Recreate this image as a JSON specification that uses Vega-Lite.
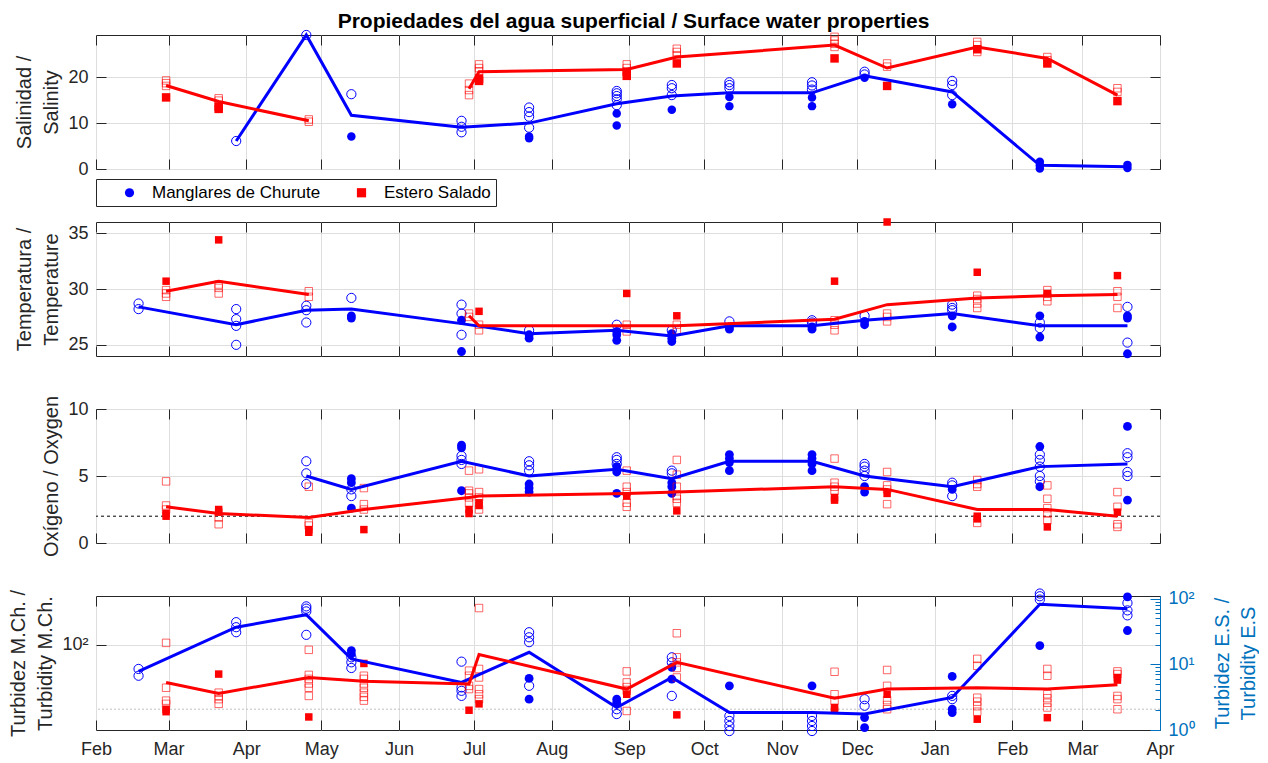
{
"$schema": "https://vega.github.io/schema/vega-lite/v6.json",
"padding": {"left": 8, "top": 10, "right": 0, "bottom": 2},
"title": {"text": "Propiedades del agua superficial / Surface water properties", "fontSize": 21, "fontWeight": "bold", "font": "Liberation Sans", "color": "#000000", "anchor": "middle", "offset": -4},
"spacing": 53,
"bounds": "flush",
"config": {
  "font": "Liberation Sans",
  "view": {"stroke": "#262626", "strokeWidth": 1},
  "axis": {"labelFont": "Liberation Sans", "titleFont": "Liberation Sans", "labelFontSize": 18, "titleFontSize": 20, "titleFontWeight": "normal", "labelColor": "#262626", "titleColor": "#262626", "tickColor": "#262626", "domain": false, "gridColor": "#dedede", "gridWidth": 1, "tickSize": -10, "tickWidth": 1, "labelPadding": 18, "titlePadding": 6, "titleLineHeight": 27, "labelFlush": false, "labelOverlap": false, "labelBound": false},
  "legend": {"labelFont": "Liberation Sans"}
},
"datasets": {
"sal": [
{"d":"2020-03-28","s":"M","f":"o","v":6.1},
{"d":"2020-04-25","s":"M","f":"o","v":29.2},
{"d":"2020-05-13","s":"M","f":"o","v":16.3},{"d":"2020-05-13","s":"M","f":"f","v":7.1},
{"d":"2020-06-26","s":"M","f":"o","v":10.5},{"d":"2020-06-26","s":"M","f":"o","v":9.2},{"d":"2020-06-26","s":"M","f":"o","v":8.0},
{"d":"2020-07-23","s":"M","f":"o","v":13.4},{"d":"2020-07-23","s":"M","f":"o","v":12.4},{"d":"2020-07-23","s":"M","f":"o","v":11.4},{"d":"2020-07-23","s":"M","f":"o","v":9.0},{"d":"2020-07-23","s":"M","f":"f","v":7.1},{"d":"2020-07-23","s":"M","f":"f","v":6.7},
{"d":"2020-08-27","s":"M","f":"o","v":17.0},{"d":"2020-08-27","s":"M","f":"o","v":16.5},{"d":"2020-08-27","s":"M","f":"o","v":15.9},{"d":"2020-08-27","s":"M","f":"o","v":15.2},{"d":"2020-08-27","s":"M","f":"o","v":13.9},{"d":"2020-08-27","s":"M","f":"f","v":12.1},{"d":"2020-08-27","s":"M","f":"f","v":9.5},
{"d":"2020-09-18","s":"M","f":"o","v":18.3},{"d":"2020-09-18","s":"M","f":"o","v":17.6},{"d":"2020-09-18","s":"M","f":"o","v":16.1},{"d":"2020-09-18","s":"M","f":"f","v":12.9},
{"d":"2020-10-11","s":"M","f":"o","v":18.9},{"d":"2020-10-11","s":"M","f":"o","v":18.3},{"d":"2020-10-11","s":"M","f":"o","v":17.6},{"d":"2020-10-11","s":"M","f":"f","v":15.7},{"d":"2020-10-11","s":"M","f":"f","v":13.7},
{"d":"2020-11-13","s":"M","f":"o","v":18.9},{"d":"2020-11-13","s":"M","f":"o","v":18.2},{"d":"2020-11-13","s":"M","f":"o","v":17.3},{"d":"2020-11-13","s":"M","f":"f","v":15.6},{"d":"2020-11-13","s":"M","f":"f","v":13.7},
{"d":"2020-12-04","s":"M","f":"o","v":21.2},{"d":"2020-12-04","s":"M","f":"o","v":20.6},{"d":"2020-12-04","s":"M","f":"f","v":19.9},
{"d":"2021-01-08","s":"M","f":"o","v":19.2},{"d":"2021-01-08","s":"M","f":"o","v":18.3},{"d":"2021-01-08","s":"M","f":"o","v":16.1},{"d":"2021-01-08","s":"M","f":"f","v":14.1},
{"d":"2021-02-12","s":"M","f":"f","v":1.6},{"d":"2021-02-12","s":"M","f":"f","v":0.8},{"d":"2021-02-12","s":"M","f":"f","v":0.1},
{"d":"2021-03-19","s":"M","f":"f","v":0.9},{"d":"2021-03-19","s":"M","f":"f","v":0.2},
{"d":"2020-02-29","s":"E","f":"o","v":19.3},{"d":"2020-02-29","s":"E","f":"o","v":18.7},{"d":"2020-02-29","s":"E","f":"o","v":18.1},{"d":"2020-02-29","s":"E","f":"f","v":15.6},
{"d":"2020-03-21","s":"E","f":"o","v":15.4},{"d":"2020-03-21","s":"E","f":"o","v":14.9},{"d":"2020-03-21","s":"E","f":"f","v":13.6},{"d":"2020-03-21","s":"E","f":"f","v":13.1},
{"d":"2020-04-26","s":"E","f":"o","v":10.8},{"d":"2020-04-26","s":"E","f":"o","v":10.3},
{"d":"2020-06-29","s":"E","f":"o","v":18.6},{"d":"2020-06-29","s":"E","f":"o","v":17.2},{"d":"2020-06-29","s":"E","f":"o","v":16.1},
{"d":"2020-07-03","s":"E","f":"o","v":22.8},{"d":"2020-07-03","s":"E","f":"o","v":22.0},{"d":"2020-07-03","s":"E","f":"o","v":21.3},{"d":"2020-07-03","s":"E","f":"f","v":19.7},{"d":"2020-07-03","s":"E","f":"f","v":19.2},
{"d":"2020-08-31","s":"E","f":"o","v":22.8},{"d":"2020-08-31","s":"E","f":"o","v":22.0},{"d":"2020-08-31","s":"E","f":"f","v":21.2},{"d":"2020-08-31","s":"E","f":"f","v":20.3},
{"d":"2020-09-20","s":"E","f":"o","v":26.2},{"d":"2020-09-20","s":"E","f":"o","v":25.5},{"d":"2020-09-20","s":"E","f":"o","v":24.8},{"d":"2020-09-20","s":"E","f":"f","v":23.0},
{"d":"2020-11-22","s":"E","f":"o","v":28.8},{"d":"2020-11-22","s":"E","f":"o","v":28.0},{"d":"2020-11-22","s":"E","f":"o","v":27.3},{"d":"2020-11-22","s":"E","f":"o","v":26.6},{"d":"2020-11-22","s":"E","f":"f","v":24.1},
{"d":"2020-12-13","s":"E","f":"o","v":23.0},{"d":"2020-12-13","s":"E","f":"o","v":22.3},{"d":"2020-12-13","s":"E","f":"f","v":18.1},
{"d":"2021-01-18","s":"E","f":"o","v":27.7},{"d":"2021-01-18","s":"E","f":"o","v":27.0},{"d":"2021-01-18","s":"E","f":"o","v":25.5},{"d":"2021-01-18","s":"E","f":"f","v":26.1},
{"d":"2021-02-15","s":"E","f":"o","v":24.4},{"d":"2021-02-15","s":"E","f":"o","v":23.7},{"d":"2021-02-15","s":"E","f":"f","v":23.0},
{"d":"2021-03-15","s":"E","f":"o","v":17.6},{"d":"2021-03-15","s":"E","f":"o","v":16.8},{"d":"2021-03-15","s":"E","f":"f","v":14.8}
],
"salL": [
{"d":"2020-03-28","s":"M","g":1,"v":6.1},{"d":"2020-04-25","s":"M","g":1,"v":29.2},{"d":"2020-05-13","s":"M","g":1,"v":11.7},{"d":"2020-06-26","s":"M","g":1,"v":9.1},{"d":"2020-07-23","s":"M","g":1,"v":10.0},{"d":"2020-08-27","s":"M","g":1,"v":14.2},{"d":"2020-09-18","s":"M","g":1,"v":15.9},{"d":"2020-10-11","s":"M","g":1,"v":16.6},{"d":"2020-11-13","s":"M","g":1,"v":16.6},{"d":"2020-12-04","s":"M","g":1,"v":20.3},{"d":"2021-01-08","s":"M","g":1,"v":16.8},{"d":"2021-02-12","s":"M","g":1,"v":0.8},{"d":"2021-03-19","s":"M","g":1,"v":0.5},
{"d":"2020-02-29","s":"E","g":1,"v":18.2},{"d":"2020-03-21","s":"E","g":1,"v":14.7},{"d":"2020-04-26","s":"E","g":1,"v":10.5},
{"d":"2020-06-29","s":"E","g":2,"v":17.5},{"d":"2020-07-03","s":"E","g":2,"v":21.2},{"d":"2020-08-31","s":"E","g":2,"v":21.7},{"d":"2020-09-20","s":"E","g":2,"v":24.4},{"d":"2020-11-22","s":"E","g":2,"v":27.0},{"d":"2020-12-13","s":"E","g":2,"v":22.0},{"d":"2021-01-18","s":"E","g":2,"v":26.6},{"d":"2021-02-15","s":"E","g":2,"v":24.1},{"d":"2021-03-15","s":"E","g":2,"v":16.1}
],
"tem": [
{"d":"2020-02-18","s":"M","f":"o","v":28.7},{"d":"2020-02-18","s":"M","f":"o","v":28.2},
{"d":"2020-03-28","s":"M","f":"o","v":28.2},{"d":"2020-03-28","s":"M","f":"o","v":27.3},{"d":"2020-03-28","s":"M","f":"o","v":26.7},{"d":"2020-03-28","s":"M","f":"o","v":25.0},
{"d":"2020-04-25","s":"M","f":"o","v":28.5},{"d":"2020-04-25","s":"M","f":"o","v":28.1},{"d":"2020-04-25","s":"M","f":"o","v":27.0},
{"d":"2020-05-13","s":"M","f":"o","v":29.2},{"d":"2020-05-13","s":"M","f":"f","v":27.6},{"d":"2020-05-13","s":"M","f":"f","v":27.4},
{"d":"2020-06-26","s":"M","f":"o","v":28.6},{"d":"2020-06-26","s":"M","f":"o","v":27.8},{"d":"2020-06-26","s":"M","f":"o","v":25.9},{"d":"2020-06-26","s":"M","f":"f","v":27.2},{"d":"2020-06-26","s":"M","f":"f","v":24.4},
{"d":"2020-07-23","s":"M","f":"o","v":26.3},{"d":"2020-07-23","s":"M","f":"f","v":25.9},{"d":"2020-07-23","s":"M","f":"f","v":25.6},
{"d":"2020-08-27","s":"M","f":"o","v":26.8},{"d":"2020-08-27","s":"M","f":"f","v":26.2},{"d":"2020-08-27","s":"M","f":"f","v":25.9},{"d":"2020-08-27","s":"M","f":"f","v":25.4},
{"d":"2020-09-18","s":"M","f":"o","v":26.3},{"d":"2020-09-18","s":"M","f":"f","v":26.0},{"d":"2020-09-18","s":"M","f":"f","v":25.6},{"d":"2020-09-18","s":"M","f":"f","v":25.3},
{"d":"2020-10-11","s":"M","f":"o","v":27.1},{"d":"2020-10-11","s":"M","f":"f","v":26.6},{"d":"2020-10-11","s":"M","f":"f","v":26.4},
{"d":"2020-11-13","s":"M","f":"o","v":27.2},{"d":"2020-11-13","s":"M","f":"o","v":27.0},{"d":"2020-11-13","s":"M","f":"f","v":26.6},{"d":"2020-11-13","s":"M","f":"f","v":26.4},
{"d":"2020-12-04","s":"M","f":"o","v":27.6},{"d":"2020-12-04","s":"M","f":"f","v":27.1},{"d":"2020-12-04","s":"M","f":"f","v":26.8},
{"d":"2021-01-08","s":"M","f":"o","v":28.6},{"d":"2021-01-08","s":"M","f":"o","v":28.3},{"d":"2021-01-08","s":"M","f":"o","v":28.1},{"d":"2021-01-08","s":"M","f":"f","v":27.6},{"d":"2021-01-08","s":"M","f":"f","v":26.6},
{"d":"2021-02-12","s":"M","f":"o","v":27.0},{"d":"2021-02-12","s":"M","f":"o","v":26.5},{"d":"2021-02-12","s":"M","f":"f","v":27.6},{"d":"2021-02-12","s":"M","f":"f","v":25.7},
{"d":"2021-03-19","s":"M","f":"o","v":28.4},{"d":"2021-03-19","s":"M","f":"o","v":25.2},{"d":"2021-03-19","s":"M","f":"f","v":27.6},{"d":"2021-03-19","s":"M","f":"f","v":27.4},{"d":"2021-03-19","s":"M","f":"f","v":24.2},
{"d":"2020-02-29","s":"E","f":"o","v":29.9},{"d":"2020-02-29","s":"E","f":"o","v":29.6},{"d":"2020-02-29","s":"E","f":"o","v":29.3},{"d":"2020-02-29","s":"E","f":"f","v":30.7},
{"d":"2020-03-21","s":"E","f":"o","v":30.4},{"d":"2020-03-21","s":"E","f":"o","v":30.1},{"d":"2020-03-21","s":"E","f":"o","v":29.6},{"d":"2020-03-21","s":"E","f":"f","v":34.4},
{"d":"2020-04-26","s":"E","f":"o","v":29.8},{"d":"2020-04-26","s":"E","f":"o","v":29.3},
{"d":"2020-06-29","s":"E","f":"o","v":27.8},{"d":"2020-06-29","s":"E","f":"o","v":27.5},
{"d":"2020-07-03","s":"E","f":"o","v":26.8},{"d":"2020-07-03","s":"E","f":"o","v":26.3},{"d":"2020-07-03","s":"E","f":"f","v":28.0},
{"d":"2020-08-31","s":"E","f":"o","v":26.8},{"d":"2020-08-31","s":"E","f":"o","v":26.2},{"d":"2020-08-31","s":"E","f":"f","v":29.6},
{"d":"2020-09-20","s":"E","f":"o","v":26.8},{"d":"2020-09-20","s":"E","f":"o","v":26.3},{"d":"2020-09-20","s":"E","f":"f","v":27.6},
{"d":"2020-11-22","s":"E","f":"o","v":27.2},{"d":"2020-11-22","s":"E","f":"o","v":26.8},{"d":"2020-11-22","s":"E","f":"o","v":26.3},{"d":"2020-11-22","s":"E","f":"f","v":30.7},
{"d":"2020-12-13","s":"E","f":"o","v":27.8},{"d":"2020-12-13","s":"E","f":"o","v":27.5},{"d":"2020-12-13","s":"E","f":"o","v":27.1},{"d":"2020-12-13","s":"E","f":"f","v":36.0},
{"d":"2021-01-18","s":"E","f":"o","v":29.4},{"d":"2021-01-18","s":"E","f":"o","v":29.1},{"d":"2021-01-18","s":"E","f":"o","v":28.7},{"d":"2021-01-18","s":"E","f":"o","v":28.3},{"d":"2021-01-18","s":"E","f":"f","v":31.5},
{"d":"2021-02-15","s":"E","f":"o","v":29.9},{"d":"2021-02-15","s":"E","f":"o","v":29.3},{"d":"2021-02-15","s":"E","f":"o","v":28.9},{"d":"2021-02-15","s":"E","f":"f","v":29.6},
{"d":"2021-03-15","s":"E","f":"o","v":29.8},{"d":"2021-03-15","s":"E","f":"o","v":29.3},{"d":"2021-03-15","s":"E","f":"o","v":28.3},{"d":"2021-03-15","s":"E","f":"f","v":31.2}
],
"temL": [
{"d":"2020-02-18","s":"M","g":1,"v":28.4},{"d":"2020-03-28","s":"M","g":1,"v":26.8},{"d":"2020-04-25","s":"M","g":1,"v":28.1},{"d":"2020-05-13","s":"M","g":1,"v":28.2},{"d":"2020-06-26","s":"M","g":1,"v":26.9},{"d":"2020-07-23","s":"M","g":1,"v":26.0},{"d":"2020-08-27","s":"M","g":1,"v":26.3},{"d":"2020-09-18","s":"M","g":1,"v":25.8},{"d":"2020-10-11","s":"M","g":1,"v":26.7},{"d":"2020-11-13","s":"M","g":1,"v":26.7},{"d":"2020-12-04","s":"M","g":1,"v":27.2},{"d":"2021-01-08","s":"M","g":1,"v":27.8},{"d":"2021-02-12","s":"M","g":1,"v":26.7},{"d":"2021-03-19","s":"M","g":1,"v":26.7},
{"d":"2020-02-29","s":"E","g":1,"v":29.8},{"d":"2020-03-21","s":"E","g":1,"v":30.7},{"d":"2020-04-26","s":"E","g":1,"v":29.5},
{"d":"2020-06-29","s":"E","g":2,"v":27.6},{"d":"2020-07-03","s":"E","g":2,"v":26.7},{"d":"2020-08-31","s":"E","g":2,"v":26.7},{"d":"2020-09-20","s":"E","g":2,"v":26.7},{"d":"2020-11-22","s":"E","g":2,"v":27.3},{"d":"2020-12-13","s":"E","g":2,"v":28.6},{"d":"2021-01-18","s":"E","g":2,"v":29.2},{"d":"2021-02-15","s":"E","g":2,"v":29.4},{"d":"2021-03-15","s":"E","g":2,"v":29.5}
],
"oxy": [
{"d":"2020-04-25","s":"M","f":"o","v":6.1},{"d":"2020-04-25","s":"M","f":"o","v":5.2},{"d":"2020-04-25","s":"M","f":"o","v":4.4},
{"d":"2020-05-13","s":"M","f":"o","v":4.0},{"d":"2020-05-13","s":"M","f":"o","v":3.5},{"d":"2020-05-13","s":"M","f":"f","v":4.8},{"d":"2020-05-13","s":"M","f":"f","v":4.5},{"d":"2020-05-13","s":"M","f":"f","v":2.6},
{"d":"2020-06-26","s":"M","f":"o","v":6.5},{"d":"2020-06-26","s":"M","f":"o","v":6.2},{"d":"2020-06-26","s":"M","f":"o","v":5.9},{"d":"2020-06-26","s":"M","f":"f","v":7.3},{"d":"2020-06-26","s":"M","f":"f","v":7.1},{"d":"2020-06-26","s":"M","f":"f","v":3.9},
{"d":"2020-07-23","s":"M","f":"o","v":6.1},{"d":"2020-07-23","s":"M","f":"o","v":5.8},{"d":"2020-07-23","s":"M","f":"o","v":5.4},{"d":"2020-07-23","s":"M","f":"f","v":4.4},{"d":"2020-07-23","s":"M","f":"f","v":4.1},{"d":"2020-07-23","s":"M","f":"f","v":3.8},
{"d":"2020-08-27","s":"M","f":"o","v":6.4},{"d":"2020-08-27","s":"M","f":"o","v":6.2},{"d":"2020-08-27","s":"M","f":"o","v":5.9},{"d":"2020-08-27","s":"M","f":"f","v":5.7},{"d":"2020-08-27","s":"M","f":"f","v":5.3},{"d":"2020-08-27","s":"M","f":"f","v":3.7},
{"d":"2020-09-18","s":"M","f":"o","v":5.4},{"d":"2020-09-18","s":"M","f":"o","v":5.2},{"d":"2020-09-18","s":"M","f":"f","v":4.5},{"d":"2020-09-18","s":"M","f":"f","v":4.2},{"d":"2020-09-18","s":"M","f":"f","v":3.7},
{"d":"2020-10-11","s":"M","f":"f","v":6.6},{"d":"2020-10-11","s":"M","f":"f","v":6.3},{"d":"2020-10-11","s":"M","f":"f","v":6.0},{"d":"2020-10-11","s":"M","f":"f","v":5.4},
{"d":"2020-11-13","s":"M","f":"f","v":6.6},{"d":"2020-11-13","s":"M","f":"f","v":6.3},{"d":"2020-11-13","s":"M","f":"f","v":5.9},{"d":"2020-11-13","s":"M","f":"f","v":5.4},
{"d":"2020-12-04","s":"M","f":"o","v":5.9},{"d":"2020-12-04","s":"M","f":"o","v":5.7},{"d":"2020-12-04","s":"M","f":"o","v":5.4},{"d":"2020-12-04","s":"M","f":"o","v":5.0},{"d":"2020-12-04","s":"M","f":"f","v":4.2},{"d":"2020-12-04","s":"M","f":"f","v":3.8},
{"d":"2021-01-08","s":"M","f":"o","v":4.5},{"d":"2021-01-08","s":"M","f":"o","v":4.3},{"d":"2021-01-08","s":"M","f":"o","v":3.5},{"d":"2021-01-08","s":"M","f":"f","v":4.0},
{"d":"2021-02-12","s":"M","f":"o","v":6.6},{"d":"2021-02-12","s":"M","f":"o","v":6.2},{"d":"2021-02-12","s":"M","f":"o","v":5.7},{"d":"2021-02-12","s":"M","f":"o","v":5.0},{"d":"2021-02-12","s":"M","f":"o","v":4.6},{"d":"2021-02-12","s":"M","f":"f","v":7.2},{"d":"2021-02-12","s":"M","f":"f","v":4.2},
{"d":"2021-03-19","s":"M","f":"o","v":6.7},{"d":"2021-03-19","s":"M","f":"o","v":6.4},{"d":"2021-03-19","s":"M","f":"o","v":5.3},{"d":"2021-03-19","s":"M","f":"o","v":5.0},{"d":"2021-03-19","s":"M","f":"f","v":8.7},{"d":"2021-03-19","s":"M","f":"f","v":3.2},
{"d":"2020-02-29","s":"E","f":"o","v":4.6},{"d":"2020-02-29","s":"E","f":"o","v":2.8},{"d":"2020-02-29","s":"E","f":"o","v":2.5},{"d":"2020-02-29","s":"E","f":"f","v":2.2},{"d":"2020-02-29","s":"E","f":"f","v":2.0},
{"d":"2020-03-21","s":"E","f":"o","v":1.9},{"d":"2020-03-21","s":"E","f":"o","v":1.4},{"d":"2020-03-21","s":"E","f":"f","v":2.5},{"d":"2020-03-21","s":"E","f":"f","v":2.3},
{"d":"2020-04-26","s":"E","f":"o","v":4.2},{"d":"2020-04-26","s":"E","f":"o","v":1.5},{"d":"2020-04-26","s":"E","f":"o","v":1.3},{"d":"2020-04-26","s":"E","f":"f","v":1.0},{"d":"2020-04-26","s":"E","f":"f","v":0.8},
{"d":"2020-05-18","s":"E","f":"o","v":4.1},{"d":"2020-05-18","s":"E","f":"o","v":2.9},{"d":"2020-05-18","s":"E","f":"o","v":2.5},{"d":"2020-05-18","s":"E","f":"f","v":1.0},
{"d":"2020-06-29","s":"E","f":"o","v":5.4},{"d":"2020-06-29","s":"E","f":"o","v":3.9},{"d":"2020-06-29","s":"E","f":"o","v":3.7},{"d":"2020-06-29","s":"E","f":"o","v":3.4},{"d":"2020-06-29","s":"E","f":"o","v":3.0},{"d":"2020-06-29","s":"E","f":"f","v":2.5},{"d":"2020-06-29","s":"E","f":"f","v":2.2},
{"d":"2020-07-03","s":"E","f":"o","v":5.5},{"d":"2020-07-03","s":"E","f":"o","v":3.8},{"d":"2020-07-03","s":"E","f":"o","v":3.4},{"d":"2020-07-03","s":"E","f":"o","v":2.5},{"d":"2020-07-03","s":"E","f":"f","v":3.0},{"d":"2020-07-03","s":"E","f":"f","v":2.8},
{"d":"2020-08-31","s":"E","f":"o","v":5.4},{"d":"2020-08-31","s":"E","f":"o","v":4.2},{"d":"2020-08-31","s":"E","f":"o","v":3.8},{"d":"2020-08-31","s":"E","f":"o","v":3.0},{"d":"2020-08-31","s":"E","f":"o","v":2.7},{"d":"2020-08-31","s":"E","f":"f","v":3.5},
{"d":"2020-09-20","s":"E","f":"o","v":6.2},{"d":"2020-09-20","s":"E","f":"o","v":5.1},{"d":"2020-09-20","s":"E","f":"o","v":4.2},{"d":"2020-09-20","s":"E","f":"o","v":3.5},{"d":"2020-09-20","s":"E","f":"o","v":3.3},{"d":"2020-09-20","s":"E","f":"o","v":3.0},{"d":"2020-09-20","s":"E","f":"f","v":2.4},
{"d":"2020-11-22","s":"E","f":"o","v":6.3},{"d":"2020-11-22","s":"E","f":"o","v":4.5},{"d":"2020-11-22","s":"E","f":"o","v":4.2},{"d":"2020-11-22","s":"E","f":"o","v":3.9},{"d":"2020-11-22","s":"E","f":"f","v":3.4},{"d":"2020-11-22","s":"E","f":"f","v":3.2},
{"d":"2020-12-13","s":"E","f":"o","v":5.3},{"d":"2020-12-13","s":"E","f":"o","v":4.3},{"d":"2020-12-13","s":"E","f":"o","v":4.0},{"d":"2020-12-13","s":"E","f":"o","v":2.9},{"d":"2020-12-13","s":"E","f":"f","v":3.7},
{"d":"2021-01-18","s":"E","f":"o","v":4.7},{"d":"2021-01-18","s":"E","f":"o","v":4.4},{"d":"2021-01-18","s":"E","f":"o","v":4.2},{"d":"2021-01-18","s":"E","f":"o","v":1.5},{"d":"2021-01-18","s":"E","f":"f","v":2.0},{"d":"2021-01-18","s":"E","f":"f","v":1.8},
{"d":"2021-02-15","s":"E","f":"o","v":4.3},{"d":"2021-02-15","s":"E","f":"o","v":3.3},{"d":"2021-02-15","s":"E","f":"o","v":2.6},{"d":"2021-02-15","s":"E","f":"o","v":2.2},{"d":"2021-02-15","s":"E","f":"o","v":1.7},{"d":"2021-02-15","s":"E","f":"f","v":1.2},
{"d":"2021-03-15","s":"E","f":"o","v":3.8},{"d":"2021-03-15","s":"E","f":"o","v":2.7},{"d":"2021-03-15","s":"E","f":"o","v":1.4},{"d":"2021-03-15","s":"E","f":"o","v":1.2},{"d":"2021-03-15","s":"E","f":"f","v":2.3}
],
"oxyL": [
{"d":"2020-04-25","s":"M","g":1,"v":5.0},{"d":"2020-05-13","s":"M","g":1,"v":4.0},{"d":"2020-06-26","s":"M","g":1,"v":6.1},{"d":"2020-07-23","s":"M","g":1,"v":5.0},{"d":"2020-08-27","s":"M","g":1,"v":5.5},{"d":"2020-09-18","s":"M","g":1,"v":4.8},{"d":"2020-10-11","s":"M","g":1,"v":6.1},{"d":"2020-11-13","s":"M","g":1,"v":6.1},{"d":"2020-12-04","s":"M","g":1,"v":5.0},{"d":"2021-01-08","s":"M","g":1,"v":4.2},{"d":"2021-02-12","s":"M","g":1,"v":5.7},{"d":"2021-03-19","s":"M","g":1,"v":5.9},
{"d":"2020-02-29","s":"E","g":1,"v":2.7},{"d":"2020-03-21","s":"E","g":1,"v":2.2},{"d":"2020-04-26","s":"E","g":1,"v":1.9},{"d":"2020-05-18","s":"E","g":1,"v":2.5},{"d":"2020-06-29","s":"E","g":1,"v":3.4},{"d":"2020-07-03","s":"E","g":1,"v":3.5},{"d":"2020-08-31","s":"E","g":1,"v":3.7},{"d":"2020-09-20","s":"E","g":1,"v":3.8},{"d":"2020-11-22","s":"E","g":1,"v":4.2},{"d":"2020-12-13","s":"E","g":1,"v":4.0},{"d":"2021-01-18","s":"E","g":1,"v":2.5},{"d":"2021-02-15","s":"E","g":1,"v":2.5},{"d":"2021-03-15","s":"E","g":1,"v":2.0}
],
"tur": [
{"d":"2020-02-18","s":"M","f":"o","v":42.2},{"d":"2020-02-18","s":"M","f":"o","v":33.1},
{"d":"2020-03-28","s":"M","f":"o","v":225},{"d":"2020-03-28","s":"M","f":"o","v":188},{"d":"2020-03-28","s":"M","f":"o","v":157},
{"d":"2020-04-25","s":"M","f":"o","v":396},{"d":"2020-04-25","s":"M","f":"o","v":365},{"d":"2020-04-25","s":"M","f":"o","v":331},{"d":"2020-04-25","s":"M","f":"o","v":143},
{"d":"2020-05-13","s":"M","f":"o","v":64},{"d":"2020-05-13","s":"M","f":"o","v":53.5},{"d":"2020-05-13","s":"M","f":"o","v":43.7},{"d":"2020-05-13","s":"M","f":"f","v":81.5},{"d":"2020-05-13","s":"M","f":"f","v":72.3},
{"d":"2020-06-26","s":"M","f":"o","v":54.8},{"d":"2020-06-26","s":"M","f":"o","v":21.8},{"d":"2020-06-26","s":"M","f":"o","v":19.3},{"d":"2020-06-26","s":"M","f":"o","v":16.1},
{"d":"2020-07-23","s":"M","f":"o","v":157},{"d":"2020-07-23","s":"M","f":"o","v":131},{"d":"2020-07-23","s":"M","f":"o","v":110},{"d":"2020-07-23","s":"M","f":"o","v":23.1},{"d":"2020-07-23","s":"M","f":"f","v":30.1},{"d":"2020-07-23","s":"M","f":"f","v":14.3},
{"d":"2020-08-27","s":"M","f":"o","v":10.0},{"d":"2020-08-27","s":"M","f":"o","v":8.4},{"d":"2020-08-27","s":"M","f":"f","v":14.3},{"d":"2020-08-27","s":"M","f":"f","v":12.7},
{"d":"2020-09-18","s":"M","f":"o","v":64},{"d":"2020-09-18","s":"M","f":"o","v":53.5},{"d":"2020-09-18","s":"M","f":"o","v":16.1},{"d":"2020-09-18","s":"M","f":"f","v":44.7},{"d":"2020-09-18","s":"M","f":"f","v":29.4},
{"d":"2020-10-11","s":"M","f":"o","v":7.85},{"d":"2020-10-11","s":"M","f":"o","v":6.56},{"d":"2020-10-11","s":"M","f":"o","v":5.48},{"d":"2020-10-11","s":"M","f":"o","v":4.58},{"d":"2020-10-11","s":"M","f":"f","v":23.1},
{"d":"2020-11-13","s":"M","f":"o","v":7.85},{"d":"2020-11-13","s":"M","f":"o","v":6.56},{"d":"2020-11-13","s":"M","f":"o","v":5.48},{"d":"2020-11-13","s":"M","f":"o","v":4.58},{"d":"2020-11-13","s":"M","f":"f","v":23.1},
{"d":"2020-12-04","s":"M","f":"o","v":14.3},{"d":"2020-12-04","s":"M","f":"o","v":11.3},{"d":"2020-12-04","s":"M","f":"f","v":7.4},{"d":"2020-12-04","s":"M","f":"f","v":5.16},
{"d":"2021-01-08","s":"M","f":"o","v":16.1},{"d":"2021-01-08","s":"M","f":"o","v":14.3},{"d":"2021-01-08","s":"M","f":"f","v":32.3},{"d":"2021-01-08","s":"M","f":"f","v":10.0},{"d":"2021-01-08","s":"M","f":"f","v":8.85},
{"d":"2021-02-12","s":"M","f":"o","v":627},{"d":"2021-02-12","s":"M","f":"o","v":569},{"d":"2021-02-12","s":"M","f":"o","v":505},{"d":"2021-02-12","s":"M","f":"f","v":97.5},
{"d":"2021-03-19","s":"M","f":"o","v":447},{"d":"2021-03-19","s":"M","f":"o","v":343},{"d":"2021-03-19","s":"M","f":"o","v":287},{"d":"2021-03-19","s":"M","f":"f","v":555},{"d":"2021-03-19","s":"M","f":"f","v":167},
{"d":"2020-02-29","s":"E","f":"o","v":21.2},{"d":"2020-02-29","s":"E","f":"o","v":4.4},{"d":"2020-02-29","s":"E","f":"o","v":2.8},{"d":"2020-02-29","s":"E","f":"o","v":2.5},{"d":"2020-02-29","s":"E","f":"f","v":2.07},{"d":"2020-02-29","s":"E","f":"f","v":1.9},
{"d":"2020-03-21","s":"E","f":"o","v":3.7},{"d":"2020-03-21","s":"E","f":"o","v":3.3},{"d":"2020-03-21","s":"E","f":"o","v":2.95},{"d":"2020-03-21","s":"E","f":"o","v":2.5},{"d":"2020-03-21","s":"E","f":"f","v":7.1},
{"d":"2020-04-26","s":"E","f":"o","v":16.6},{"d":"2020-04-26","s":"E","f":"o","v":6.9},{"d":"2020-04-26","s":"E","f":"o","v":6.0},{"d":"2020-04-26","s":"E","f":"o","v":5.1},{"d":"2020-04-26","s":"E","f":"o","v":4.4},{"d":"2020-04-26","s":"E","f":"o","v":3.3},{"d":"2020-04-26","s":"E","f":"f","v":1.58},
{"d":"2020-05-18","s":"E","f":"o","v":6.7},{"d":"2020-05-18","s":"E","f":"o","v":6.0},{"d":"2020-05-18","s":"E","f":"o","v":5.1},{"d":"2020-05-18","s":"E","f":"o","v":4.4},{"d":"2020-05-18","s":"E","f":"o","v":3.7},{"d":"2020-05-18","s":"E","f":"o","v":3.2},{"d":"2020-05-18","s":"E","f":"o","v":2.8},{"d":"2020-05-18","s":"E","f":"f","v":10.3},
{"d":"2020-06-29","s":"E","f":"o","v":8.0},{"d":"2020-06-29","s":"E","f":"o","v":6.7},{"d":"2020-06-29","s":"E","f":"o","v":4.7},{"d":"2020-06-29","s":"E","f":"o","v":4.2},{"d":"2020-06-29","s":"E","f":"f","v":2.0},
{"d":"2020-07-03","s":"E","f":"o","v":71.8},{"d":"2020-07-03","s":"E","f":"o","v":8.5},{"d":"2020-07-03","s":"E","f":"o","v":6.3},{"d":"2020-07-03","s":"E","f":"o","v":4.2},{"d":"2020-07-03","s":"E","f":"o","v":3.5},{"d":"2020-07-03","s":"E","f":"o","v":2.95},{"d":"2020-07-03","s":"E","f":"f","v":2.5},
{"d":"2020-08-31","s":"E","f":"o","v":7.8},{"d":"2020-08-31","s":"E","f":"o","v":5.3},{"d":"2020-08-31","s":"E","f":"o","v":4.5},{"d":"2020-08-31","s":"E","f":"o","v":3.95},{"d":"2020-08-31","s":"E","f":"o","v":1.95},{"d":"2020-08-31","s":"E","f":"f","v":3.5},
{"d":"2020-09-20","s":"E","f":"o","v":29.7},{"d":"2020-09-20","s":"E","f":"o","v":12.8},{"d":"2020-09-20","s":"E","f":"o","v":10.7},{"d":"2020-09-20","s":"E","f":"o","v":8.8},{"d":"2020-09-20","s":"E","f":"o","v":6.3},{"d":"2020-09-20","s":"E","f":"f","v":1.7},
{"d":"2020-11-22","s":"E","f":"o","v":7.7},{"d":"2020-11-22","s":"E","f":"o","v":3.5},{"d":"2020-11-22","s":"E","f":"o","v":2.8},{"d":"2020-11-22","s":"E","f":"f","v":2.2},{"d":"2020-11-22","s":"E","f":"f","v":2.0},
{"d":"2020-12-13","s":"E","f":"o","v":8.2},{"d":"2020-12-13","s":"E","f":"o","v":4.7},{"d":"2020-12-13","s":"E","f":"o","v":2.85},{"d":"2020-12-13","s":"E","f":"o","v":2.4},{"d":"2020-12-13","s":"E","f":"o","v":2.07},{"d":"2020-12-13","s":"E","f":"f","v":3.5},
{"d":"2021-01-18","s":"E","f":"o","v":12.1},{"d":"2021-01-18","s":"E","f":"o","v":9.5},{"d":"2021-01-18","s":"E","f":"o","v":3.1},{"d":"2021-01-18","s":"E","f":"o","v":2.7},{"d":"2021-01-18","s":"E","f":"o","v":2.3},{"d":"2021-01-18","s":"E","f":"o","v":1.9},{"d":"2021-01-18","s":"E","f":"f","v":1.46},
{"d":"2021-02-15","s":"E","f":"o","v":8.5},{"d":"2021-02-15","s":"E","f":"o","v":6.7},{"d":"2021-02-15","s":"E","f":"o","v":3.5},{"d":"2021-02-15","s":"E","f":"o","v":3.05},{"d":"2021-02-15","s":"E","f":"o","v":2.6},{"d":"2021-02-15","s":"E","f":"o","v":2.2},{"d":"2021-02-15","s":"E","f":"f","v":1.54},
{"d":"2021-03-15","s":"E","f":"o","v":7.8},{"d":"2021-03-15","s":"E","f":"o","v":7.1},{"d":"2021-03-15","s":"E","f":"o","v":3.3},{"d":"2021-03-15","s":"E","f":"o","v":2.95},{"d":"2021-03-15","s":"E","f":"o","v":2.07},{"d":"2021-03-15","s":"E","f":"f","v":6.3},{"d":"2021-03-15","s":"E","f":"f","v":5.75}
],
"turL": [
{"d":"2020-02-18","s":"M","g":1,"v":38.7},{"d":"2020-03-28","s":"M","g":1,"v":188},{"d":"2020-04-25","s":"M","g":1,"v":294},{"d":"2020-05-13","s":"M","g":1,"v":60.4},{"d":"2020-06-26","s":"M","g":1,"v":26.1},{"d":"2020-07-23","s":"M","g":1,"v":76.6},{"d":"2020-08-27","s":"M","g":1,"v":10.6},{"d":"2020-09-18","s":"M","g":1,"v":31.2},{"d":"2020-10-11","s":"M","g":1,"v":8.85},{"d":"2020-11-13","s":"M","g":1,"v":8.85},{"d":"2020-12-04","s":"M","g":1,"v":8.4},{"d":"2021-01-08","s":"M","g":1,"v":15.2},{"d":"2021-02-12","s":"M","g":1,"v":427},{"d":"2021-03-19","s":"M","g":1,"v":365},
{"d":"2020-02-29","s":"E","g":1,"v":5.3},{"d":"2020-03-21","s":"E","g":1,"v":3.6},{"d":"2020-04-26","s":"E","g":1,"v":6.3},{"d":"2020-05-18","s":"E","g":1,"v":5.5},{"d":"2020-06-29","s":"E","g":1,"v":5.0},{"d":"2020-07-03","s":"E","g":1,"v":14.1},{"d":"2020-08-31","s":"E","g":1,"v":4.2},{"d":"2020-09-20","s":"E","g":1,"v":10.7},{"d":"2020-11-22","s":"E","g":1,"v":3.05},{"d":"2020-12-13","s":"E","g":1,"v":4.2},{"d":"2021-01-18","s":"E","g":1,"v":4.4},{"d":"2021-02-15","s":"E","g":1,"v":4.2},{"d":"2021-03-15","s":"E","g":1,"v":4.9}
]
},
"vconcat": [
{
"width": 1064, "height": 134, "data": {"name": "sal"},
"resolve": {"axis": {"x": "independent", "y": "independent"}},
"layer": [
 {"transform": [{"filter": "datum.s=='M' && datum.f=='o'"}],
  "mark": {"type": "point", "shape": "circle", "filled": false, "stroke": "#0000ff", "strokeWidth": 1, "size": 85, "opacity": 1},
  "encoding": {
   "x": {"field": "d", "type": "temporal", "scale": {"type": "utc", "domain": [{"year":2020,"month":2,"date":1,"utc":true},{"year":2021,"month":4,"date":1,"utc":true}]}, "axis": {"tickCount": {"interval": "month", "step": 1}, "labels": false, "grid": true, "title": null}},
   "y": {"field": "v", "type": "quantitative", "scale": {"domain": [0, 29.2], "nice": false, "zero": false}, "axis": {"values": [0, 10, 20], "grid": true, "title": ["Salinidad /", "Salinity"]}}}},
 {"transform": [{"filter": "datum.f=='f'"}],
  "mark": {"type": "point", "filled": true, "size": 72, "opacity": 1, "strokeWidth": 0},
  "encoding": {
   "x": {"field": "d", "type": "temporal", "scale": {"type": "utc", "domain": [{"year":2020,"month":2,"date":1,"utc":true},{"year":2021,"month":4,"date":1,"utc":true}]}, "axis": {"orient": "top", "tickCount": {"interval": "month", "step": 1}, "labels": false, "grid": false, "title": null}},
   "y": {"field": "v", "type": "quantitative", "scale": {"domain": [0, 29.2], "nice": false, "zero": false}, "axis": {"orient": "right", "values": [0, 10, 20], "labels": false, "grid": false, "title": null}},
   "color": {"field": "s", "type": "nominal", "scale": {"domain": ["M", "E"], "range": ["#0000ff", "#ff0000"]},
     "legend": {"orient": "none", "legendX": 0, "legendY": 144, "direction": "horizontal", "title": null, "labelExpr": "datum.value == 'M' ? 'Manglares de Churute' : 'Estero Salado'", "labelFontSize": 17, "labelColor": "#000000", "labelLimit": 400, "padding": 5, "symbolOffset": 20, "labelOffset": 14, "columnPadding": 12, "strokeColor": "#262626", "fillColor": "#ffffff", "symbolSize": 85, "symbolStrokeWidth": 0}},
   "shape": {"field": "s", "type": "nominal", "scale": {"domain": ["M", "E"], "range": ["circle", "square"]}}}},
 {"transform": [{"filter": "datum.s=='E' && datum.f=='o'"}],
  "mark": {"type": "point", "shape": "square", "filled": false, "stroke": "#ff0000", "strokeOpacity": 0.6, "strokeWidth": 1, "size": 56, "opacity": 1},
  "encoding": {
   "x": {"field": "d", "type": "temporal", "scale": {"type": "utc", "domain": [{"year":2020,"month":2,"date":1,"utc":true},{"year":2021,"month":4,"date":1,"utc":true}]}, "axis": null},
   "y": {"field": "v", "type": "quantitative", "scale": {"domain": [0, 29.2], "nice": false, "zero": false}, "axis": null}}},
 {"data": {"name": "salL"}, "transform": [{"filter": "datum.s=='M'"}],
  "mark": {"type": "line", "color": "#0000ff", "strokeWidth": 3},
  "encoding": {
   "x": {"field": "d", "type": "temporal", "scale": {"type": "utc", "domain": [{"year":2020,"month":2,"date":1,"utc":true},{"year":2021,"month":4,"date":1,"utc":true}]}, "axis": null},
   "y": {"field": "v", "type": "quantitative", "scale": {"domain": [0, 29.2], "nice": false, "zero": false}, "axis": null}}},
 {"data": {"name": "salL"}, "transform": [{"filter": "datum.s=='E'"}],
  "mark": {"type": "line", "color": "#ff0000", "strokeWidth": 3},
  "encoding": {
   "x": {"field": "d", "type": "temporal", "scale": {"type": "utc", "domain": [{"year":2020,"month":2,"date":1,"utc":true},{"year":2021,"month":4,"date":1,"utc":true}]}, "axis": null},
   "y": {"field": "v", "type": "quantitative", "scale": {"domain": [0, 29.2], "nice": false, "zero": false}, "axis": null},
   "detail": {"field": "g", "type": "nominal"}}}
]
},
{
"width": 1064, "height": 134, "data": {"name": "tem"},
"resolve": {"axis": {"x": "independent", "y": "independent"}},
"layer": [
 {"transform": [{"filter": "datum.s=='M' && datum.f=='o'"}],
  "mark": {"type": "point", "shape": "circle", "filled": false, "stroke": "#0000ff", "strokeWidth": 1, "size": 85, "opacity": 1},
  "encoding": {
   "x": {"field": "d", "type": "temporal", "scale": {"type": "utc", "domain": [{"year":2020,"month":2,"date":1,"utc":true},{"year":2021,"month":4,"date":1,"utc":true}]}, "axis": {"tickCount": {"interval": "month", "step": 1}, "labels": false, "grid": true, "title": null}},
   "y": {"field": "v", "type": "quantitative", "scale": {"domain": [24, 36], "nice": false, "zero": false}, "axis": {"values": [25, 30, 35], "grid": true, "title": ["Temperatura /", "Temperature"]}}}},
 {"transform": [{"filter": "datum.s=='M' && datum.f=='f'"}],
  "mark": {"type": "point", "shape": "circle", "filled": true, "color": "#0000ff", "size": 78, "opacity": 1, "strokeWidth": 0},
  "encoding": {
   "x": {"field": "d", "type": "temporal", "scale": {"type": "utc", "domain": [{"year":2020,"month":2,"date":1,"utc":true},{"year":2021,"month":4,"date":1,"utc":true}]}, "axis": {"orient": "top", "tickCount": {"interval": "month", "step": 1}, "labels": false, "grid": false, "title": null}},
   "y": {"field": "v", "type": "quantitative", "scale": {"domain": [24, 36], "nice": false, "zero": false}, "axis": {"orient": "right", "values": [25, 30, 35], "labels": false, "grid": false, "title": null}}}},
 {"transform": [{"filter": "datum.s=='E' && datum.f=='o'"}],
  "mark": {"type": "point", "shape": "square", "filled": false, "stroke": "#ff0000", "strokeOpacity": 0.6, "strokeWidth": 1, "size": 56, "opacity": 1},
  "encoding": {
   "x": {"field": "d", "type": "temporal", "scale": {"type": "utc", "domain": [{"year":2020,"month":2,"date":1,"utc":true},{"year":2021,"month":4,"date":1,"utc":true}]}, "axis": null},
   "y": {"field": "v", "type": "quantitative", "scale": {"domain": [24, 36], "nice": false, "zero": false}, "axis": null}}},
 {"transform": [{"filter": "datum.s=='E' && datum.f=='f'"}],
  "mark": {"type": "point", "shape": "square", "filled": true, "color": "#ff0000", "size": 56, "opacity": 1, "strokeWidth": 0},
  "encoding": {
   "x": {"field": "d", "type": "temporal", "scale": {"type": "utc", "domain": [{"year":2020,"month":2,"date":1,"utc":true},{"year":2021,"month":4,"date":1,"utc":true}]}, "axis": null},
   "y": {"field": "v", "type": "quantitative", "scale": {"domain": [24, 36], "nice": false, "zero": false}, "axis": null}}},
 {"data": {"name": "temL"}, "transform": [{"filter": "datum.s=='M'"}],
  "mark": {"type": "line", "color": "#0000ff", "strokeWidth": 3},
  "encoding": {
   "x": {"field": "d", "type": "temporal", "scale": {"type": "utc", "domain": [{"year":2020,"month":2,"date":1,"utc":true},{"year":2021,"month":4,"date":1,"utc":true}]}, "axis": null},
   "y": {"field": "v", "type": "quantitative", "scale": {"domain": [24, 36], "nice": false, "zero": false}, "axis": null}}},
 {"data": {"name": "temL"}, "transform": [{"filter": "datum.s=='E'"}],
  "mark": {"type": "line", "color": "#ff0000", "strokeWidth": 3},
  "encoding": {
   "x": {"field": "d", "type": "temporal", "scale": {"type": "utc", "domain": [{"year":2020,"month":2,"date":1,"utc":true},{"year":2021,"month":4,"date":1,"utc":true}]}, "axis": null},
   "y": {"field": "v", "type": "quantitative", "scale": {"domain": [24, 36], "nice": false, "zero": false}, "axis": null},
   "detail": {"field": "g", "type": "nominal"}}}
]
},
{
"width": 1064, "height": 134, "data": {"name": "oxy"},
"resolve": {"axis": {"x": "independent", "y": "independent"}},
"layer": [
 {"data": {"values": [{}]},
  "mark": {"type": "rule", "color": "#000000", "strokeWidth": 1, "strokeDash": [3, 3]},
  "encoding": {"y": {"datum": 2, "type": "quantitative", "scale": {"domain": [0, 10], "nice": false, "zero": false}, "axis": null}}},
 {"transform": [{"filter": "datum.s=='M' && datum.f=='o'"}],
  "mark": {"type": "point", "shape": "circle", "filled": false, "stroke": "#0000ff", "strokeWidth": 1, "size": 85, "opacity": 1},
  "encoding": {
   "x": {"field": "d", "type": "temporal", "scale": {"type": "utc", "domain": [{"year":2020,"month":2,"date":1,"utc":true},{"year":2021,"month":4,"date":1,"utc":true}]}, "axis": {"tickCount": {"interval": "month", "step": 1}, "labels": false, "grid": true, "title": null}},
   "y": {"field": "v", "type": "quantitative", "scale": {"domain": [0, 10], "nice": false, "zero": false}, "axis": {"values": [0, 5, 10], "grid": true, "title": "Oxígeno / Oxygen"}}}},
 {"transform": [{"filter": "datum.s=='M' && datum.f=='f'"}],
  "mark": {"type": "point", "shape": "circle", "filled": true, "color": "#0000ff", "size": 78, "opacity": 1, "strokeWidth": 0},
  "encoding": {
   "x": {"field": "d", "type": "temporal", "scale": {"type": "utc", "domain": [{"year":2020,"month":2,"date":1,"utc":true},{"year":2021,"month":4,"date":1,"utc":true}]}, "axis": {"orient": "top", "tickCount": {"interval": "month", "step": 1}, "labels": false, "grid": false, "title": null}},
   "y": {"field": "v", "type": "quantitative", "scale": {"domain": [0, 10], "nice": false, "zero": false}, "axis": {"orient": "right", "values": [0, 5, 10], "labels": false, "grid": false, "title": null}}}},
 {"transform": [{"filter": "datum.s=='E' && datum.f=='o'"}],
  "mark": {"type": "point", "shape": "square", "filled": false, "stroke": "#ff0000", "strokeOpacity": 0.6, "strokeWidth": 1, "size": 56, "opacity": 1},
  "encoding": {
   "x": {"field": "d", "type": "temporal", "scale": {"type": "utc", "domain": [{"year":2020,"month":2,"date":1,"utc":true},{"year":2021,"month":4,"date":1,"utc":true}]}, "axis": null},
   "y": {"field": "v", "type": "quantitative", "scale": {"domain": [0, 10], "nice": false, "zero": false}, "axis": null}}},
 {"transform": [{"filter": "datum.s=='E' && datum.f=='f'"}],
  "mark": {"type": "point", "shape": "square", "filled": true, "color": "#ff0000", "size": 56, "opacity": 1, "strokeWidth": 0},
  "encoding": {
   "x": {"field": "d", "type": "temporal", "scale": {"type": "utc", "domain": [{"year":2020,"month":2,"date":1,"utc":true},{"year":2021,"month":4,"date":1,"utc":true}]}, "axis": null},
   "y": {"field": "v", "type": "quantitative", "scale": {"domain": [0, 10], "nice": false, "zero": false}, "axis": null}}},
 {"data": {"name": "oxyL"}, "transform": [{"filter": "datum.s=='M'"}],
  "mark": {"type": "line", "color": "#0000ff", "strokeWidth": 3},
  "encoding": {
   "x": {"field": "d", "type": "temporal", "scale": {"type": "utc", "domain": [{"year":2020,"month":2,"date":1,"utc":true},{"year":2021,"month":4,"date":1,"utc":true}]}, "axis": null},
   "y": {"field": "v", "type": "quantitative", "scale": {"domain": [0, 10], "nice": false, "zero": false}, "axis": null}}},
 {"data": {"name": "oxyL"}, "transform": [{"filter": "datum.s=='E'"}],
  "mark": {"type": "line", "color": "#ff0000", "strokeWidth": 3},
  "encoding": {
   "x": {"field": "d", "type": "temporal", "scale": {"type": "utc", "domain": [{"year":2020,"month":2,"date":1,"utc":true},{"year":2021,"month":4,"date":1,"utc":true}]}, "axis": null},
   "y": {"field": "v", "type": "quantitative", "scale": {"domain": [0, 10], "nice": false, "zero": false}, "axis": null}}}
]
},
{
"width": 1064, "height": 134, "data": {"name": "tur"},
"resolve": {"scale": {"y": "independent"}, "axis": {"x": "independent", "y": "independent"}},
"layer": [
 {"data": {"values": [{}]},
  "mark": {"type": "rule", "color": "#c0c0c0", "strokeWidth": 1, "strokeDash": [2, 2]},
  "encoding": {"y": {"datum": 10, "type": "quantitative", "scale": {"type": "log", "domain": [4.75, 574], "nice": false}, "axis": null}}},
 {"transform": [{"filter": "datum.s=='M' && datum.f=='o'"}],
  "mark": {"type": "point", "shape": "circle", "filled": false, "stroke": "#0000ff", "strokeWidth": 1, "size": 85, "opacity": 1},
  "encoding": {
   "x": {"field": "d", "type": "temporal", "scale": {"type": "utc", "domain": [{"year":2020,"month":2,"date":1,"utc":true},{"year":2021,"month":4,"date":1,"utc":true}]}, "axis": {"tickCount": {"interval": "month", "step": 1}, "format": "%b", "labels": true, "grid": true, "title": null, "labelPadding": 20}},
   "y": {"field": "v", "type": "quantitative", "scale": {"type": "log", "domain": [4.75, 574], "nice": false}, "axis": {"values": [100], "labelExpr": "'10²'", "grid": true, "title": ["Turbidez M.Ch. /", "Turbidity M.Ch."]}}}},
 {"transform": [{"filter": "datum.s=='M' && datum.f=='f'"}],
  "mark": {"type": "point", "shape": "circle", "filled": true, "color": "#0000ff", "size": 78, "opacity": 1, "strokeWidth": 0},
  "encoding": {
   "x": {"field": "d", "type": "temporal", "scale": {"type": "utc", "domain": [{"year":2020,"month":2,"date":1,"utc":true},{"year":2021,"month":4,"date":1,"utc":true}]}, "axis": {"orient": "top", "tickCount": {"interval": "month", "step": 1}, "labels": false, "grid": false, "title": null}},
   "y": {"field": "v", "type": "quantitative", "scale": {"type": "log", "domain": [4.75, 574], "nice": false}, "axis": null}}},
 {"transform": [{"filter": "datum.s=='E' && datum.f=='o'"}],
  "mark": {"type": "point", "shape": "square", "filled": false, "stroke": "#ff0000", "strokeOpacity": 0.6, "strokeWidth": 1, "size": 56, "opacity": 1},
  "encoding": {
   "x": {"field": "d", "type": "temporal", "scale": {"type": "utc", "domain": [{"year":2020,"month":2,"date":1,"utc":true},{"year":2021,"month":4,"date":1,"utc":true}]}, "axis": null},
   "y": {"field": "v", "type": "quantitative", "scale": {"type": "log", "domain": [1, 109.6], "nice": false}, "axis": {"orient": "right", "values": [1, 10, 100], "labelExpr": "datum.value == 1 ? '10⁰' : datum.value == 10 ? '10¹' : '10²'", "grid": false, "domain": true, "domainColor": "#0072bd", "tickColor": "#0072bd", "labelColor": "#0072bd", "titleColor": "#0072bd", "title": ["Turbidez E.S. /", "Turbidity E.S"], "titleAngle": 270, "titleBaseline": "top", "titlePadding": -8, "titleLineHeight": 26}}}},
 {"transform": [{"filter": "datum.s=='E' && datum.f=='f'"}],
  "mark": {"type": "point", "shape": "square", "filled": true, "color": "#ff0000", "size": 56, "opacity": 1, "strokeWidth": 0},
  "encoding": {
   "x": {"field": "d", "type": "temporal", "scale": {"type": "utc", "domain": [{"year":2020,"month":2,"date":1,"utc":true},{"year":2021,"month":4,"date":1,"utc":true}]}, "axis": null},
   "y": {"field": "v", "type": "quantitative", "scale": {"type": "log", "domain": [1, 109.6], "nice": false}, "axis": {"orient": "right", "values": [2, 3, 4, 5, 6, 7, 8, 9, 20, 30, 40, 50, 60, 70, 80, 90], "labels": false, "grid": false, "domain": false, "tickSize": -5, "tickColor": "#0072bd", "title": null}}}},
 {"data": {"name": "turL"}, "transform": [{"filter": "datum.s=='M'"}],
  "mark": {"type": "line", "color": "#0000ff", "strokeWidth": 3},
  "encoding": {
   "x": {"field": "d", "type": "temporal", "scale": {"type": "utc", "domain": [{"year":2020,"month":2,"date":1,"utc":true},{"year":2021,"month":4,"date":1,"utc":true}]}, "axis": null},
   "y": {"field": "v", "type": "quantitative", "scale": {"type": "log", "domain": [4.75, 574], "nice": false}, "axis": null}}},
 {"data": {"name": "turL"}, "transform": [{"filter": "datum.s=='E'"}],
  "mark": {"type": "line", "color": "#ff0000", "strokeWidth": 3},
  "encoding": {
   "x": {"field": "d", "type": "temporal", "scale": {"type": "utc", "domain": [{"year":2020,"month":2,"date":1,"utc":true},{"year":2021,"month":4,"date":1,"utc":true}]}, "axis": null},
   "y": {"field": "v", "type": "quantitative", "scale": {"type": "log", "domain": [1, 109.6], "nice": false}, "axis": null}}}
]
}
]
}
